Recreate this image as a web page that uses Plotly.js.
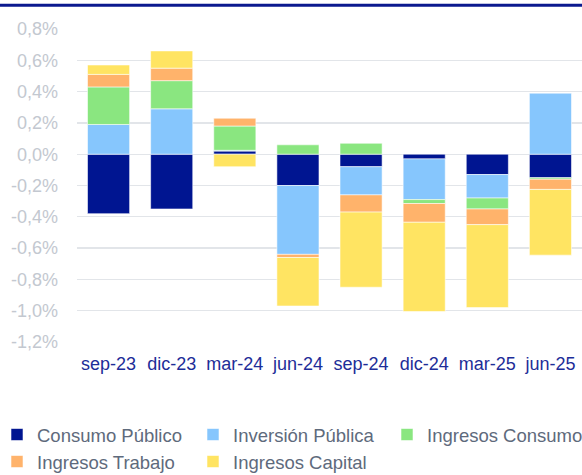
<!DOCTYPE html>
<html>
<head>
<meta charset="utf-8">
<script src="https://cdn.plot.ly/plotly-3.0.1.min.js"></script>
<style>html,body{margin:0;padding:0;background:#fff;}#chart{width:582px;height:475px;}</style>
</head>
<body>
<div id="chart"></div>
<script>
// Data (percentage points)
const categories = ["sep-23", "dic-23", "mar-24", "jun-24", "sep-24", "dic-24", "mar-25", "jun-25"];
const consumoPublico   = [-0.38, -0.35, 0.02, -0.20, -0.08, -0.03, -0.13, -0.15];
const inversionPublica = [0.19, 0.29, 0.005, -0.44, -0.18, -0.26, -0.15, 0.39];
const ingresosConsumo  = [0.24, 0.18, 0.155, 0.06, 0.07, -0.025, -0.07, -0.01];
const ingresosTrabajo  = [0.08, 0.08, 0.05, -0.02, -0.11, -0.12, -0.10, -0.065];
const ingresosCapital  = [0.06, 0.11, -0.08, -0.31, -0.48, -0.57, -0.53, -0.42];
const seriesNames = ["Consumo Público", "Inversión Pública", "Ingresos Consumo", "Ingresos Trabajo", "Ingresos Capital"];
const yTickVals = [-1.2, -1.0, -0.8, -0.6, -0.4, -0.2, 0.0, 0.2, 0.4, 0.6, 0.8];
const yTickText = ["-1,2%", "-1,0%", "-0,8%", "-0,6%", "-0,4%", "-0,2%", "0,0%", "0,2%", "0,4%", "0,6%", "0,8%"];

const colors = ["#001591", "#86C6FD", "#8AE680", "#FFB36B", "#FFE462"];
const allSeries = [consumoPublico, inversionPublica, ingresosConsumo, ingresosTrabajo, ingresosCapital];
const legendOf = ["legend", "legend", "legend3", "legend2", "legend2"];

const traces = allSeries.map((vals, i) => ({
  type: "bar",
  name: seriesNames[i],
  x: categories,
  y: vals,
  marker: {color: colors[i], line: {color: "rgba(255,255,255,0.7)", width: 0.8}},
  legend: legendOf[i],
  hoverinfo: "name+y"
}));

const boundaryTicks = [];
for (let i = 0; i <= categories.length; i++) boundaryTicks.push(i - 0.5);

const plotLeft = 77, plotRight = 582, plotTop = 29, plotBottom = 342;
const pw = plotRight - plotLeft, ph = plotBottom - plotTop;
const px2x = p => (p - plotLeft) / pw;
const py2y = p => (plotBottom - p) / ph;

const legendFont = {family: "Liberation Sans, Arial, sans-serif", size: 18.5, color: "#5E6A7C"};
function mkLegend(xpx, ypx) {
  return {
    orientation: "h",
    x: px2x(xpx), xanchor: "left",
    y: py2y(ypx), yanchor: "middle",
    font: legendFont,
    itemwidth: 30,
    entrywidth: 151, entrywidthmode: "pixels",
    bgcolor: "rgba(0,0,0,0)",
    itemclick: false, itemdoubleclick: false
  };
}

const layout = {
  width: 582, height: 475,
  margin: {l: plotLeft, r: 582 - plotRight, t: plotTop, b: 475 - plotBottom, autoexpand: false},
  paper_bgcolor: "#ffffff", plot_bgcolor: "#ffffff",
  barmode: "relative",
  bargap: 0.333,
  font: {family: "Liberation Sans, Arial, sans-serif"},
  xaxis: {
    type: "category",
    categoryarray: categories,
    range: [-0.5, categories.length - 0.5],
    showgrid: false, zeroline: false, showline: false,
    ticks: "",
    tickfont: {size: 18, color: "#1D2D98"},
    ticklabelstandoff: 9
  },
  xaxis2: {
    overlaying: "x",
    anchor: "free",
    position: 0.6,
    range: [-0.5, categories.length - 0.5],
    tickvals: boundaryTicks,
    showticklabels: false,
    ticks: "outside", ticklen: 6, tickcolor: "#C9CDD3", tickwidth: 1.3,
    showline: true, linecolor: "#C9CDD3", linewidth: 1.3,
    showgrid: false, zeroline: false
  },
  yaxis: {
    range: [-1.2, 0.8],
    tickvals: yTickVals,
    ticktext: yTickText,
    showgrid: true, gridcolor: "#E2E5E9", gridwidth: 1.3,
    zeroline: false,
    tickfont: {size: 18, color: "#C3C8D0"},
    ticklabelstandoff: 18
  },
  legend: mkLegend(-3, 435),
  legend3: mkLegend(387, 435),
  legend2: mkLegend(-3, 462),
  shapes: [{
    type: "line", xref: "paper", yref: "paper",
    x0: px2x(0), x1: px2x(582), y0: py2y(5.3), y1: py2y(5.3),
    line: {color: "#0B1A8F", width: 3}
  }],
  showlegend: true
};

Plotly.newPlot("chart", traces, layout, {displayModeBar: false, staticPlot: true});
</script>
</body>
</html>
